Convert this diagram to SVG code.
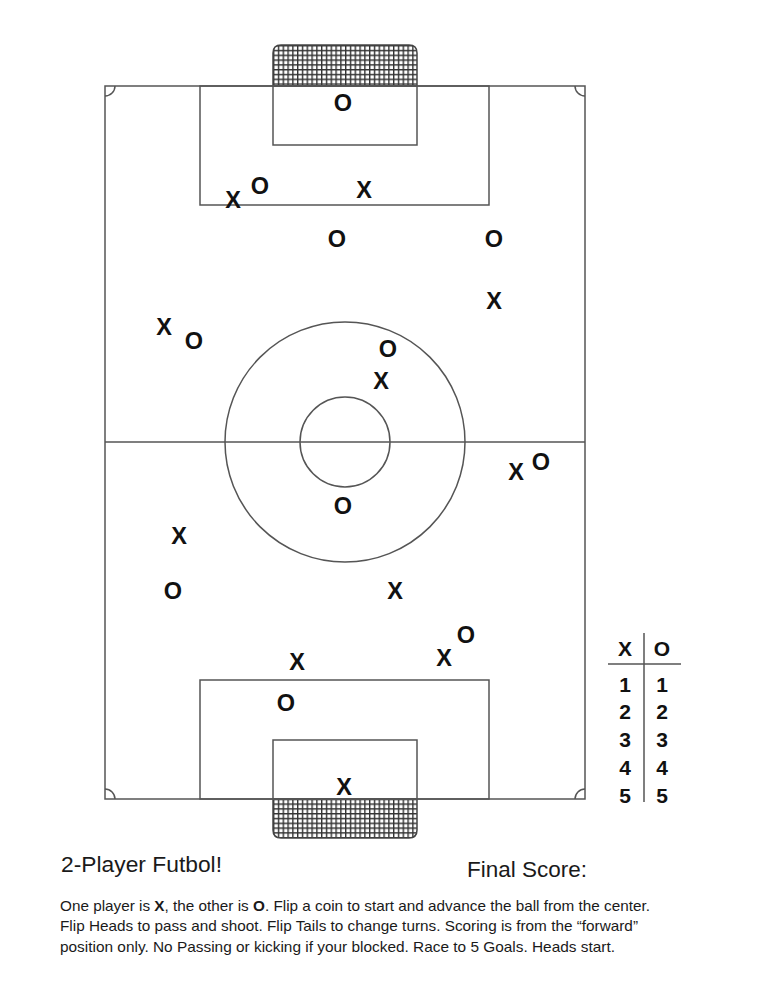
<svg xmlns="http://www.w3.org/2000/svg" width="773" height="1000" viewBox="0 0 773 1000">
<defs>
<pattern id="net" patternUnits="userSpaceOnUse" x="273" y="45" width="4.8" height="4.8">
<rect width="4.8" height="4.8" fill="#fff"/>
<path d="M0,0.7 H4.8 M0.7,0 V4.8" stroke="#333" stroke-width="1.4"/>
</pattern>
<style>
.ln{fill:none;stroke:#555;stroke-width:1.5}
.net{fill:url(#net);stroke:#444;stroke-width:1.5}
.m{font-family:"Liberation Sans",Arial,sans-serif;font-weight:bold;font-size:23.5px;text-anchor:middle;fill:#111}
.s{font-family:"Liberation Sans",Arial,sans-serif;font-weight:bold;font-size:21px;text-anchor:middle;fill:#111}
.t{font-family:"Liberation Sans",Arial,sans-serif;fill:#1a1a1a}
</style>
</defs>
<rect width="773" height="1000" fill="#fff"/>
<g id="field">
<path class="net" d="M273,86 V53 Q273,45 281,45 H409 Q417,45 417,53 V86 Z"/>
<path class="net" d="M273,799 V830 Q273,838 281,838 H409 Q417,838 417,830 V799 Z"/>
<rect class="ln" x="105" y="86" width="480" height="713"/>
<rect class="ln" x="200" y="86" width="289" height="119"/>
<rect class="ln" x="273" y="86" width="144" height="59"/>
<rect class="ln" x="200" y="680" width="289" height="119"/>
<rect class="ln" x="273" y="740" width="144" height="59"/>
<line class="ln" x1="105" y1="442" x2="585" y2="442"/>
<circle class="ln" cx="345" cy="442" r="120"/>
<circle class="ln" cx="345" cy="442" r="45"/>
<path class="ln" d="M105,96 A10,10 0 0 0 115,86 M575,86 A10,10 0 0 0 585,96 M105,789 A10,10 0 0 1 115,799 M575,799 A10,10 0 0 1 585,789"/>
</g>
<g id="players">
<text class="m" x="343" y="111">O</text>
<text class="m" x="233" y="208">X</text>
<text class="m" x="260" y="194">O</text>
<text class="m" x="364" y="198">X</text>
<text class="m" x="337" y="247">O</text>
<text class="m" x="494" y="247">O</text>
<text class="m" x="494" y="309">X</text>
<text class="m" x="164" y="335">X</text>
<text class="m" x="194" y="349">O</text>
<text class="m" x="388" y="357">O</text>
<text class="m" x="381" y="389">X</text>
<text class="m" x="516" y="480">X</text>
<text class="m" x="541" y="470">O</text>
<text class="m" x="343" y="514">O</text>
<text class="m" x="179" y="544">X</text>
<text class="m" x="173" y="599">O</text>
<text class="m" x="395" y="599">X</text>
<text class="m" x="466" y="643">O</text>
<text class="m" x="444" y="666">X</text>
<text class="m" x="297" y="670">X</text>
<text class="m" x="286" y="711">O</text>
<text class="m" x="344" y="795">X</text>
</g>
<g id="score">
<line class="ln" x1="644" y1="633" x2="644" y2="802"/>
<line class="ln" x1="608" y1="664" x2="681" y2="664"/>
<text class="s" x="625" y="656">X</text>
<text class="s" x="662" y="656">O</text>
<text class="s" x="625" y="692">1</text><text class="s" x="662" y="692">1</text>
<text class="s" x="625" y="719">2</text><text class="s" x="662" y="719">2</text>
<text class="s" x="625" y="747">3</text><text class="s" x="662" y="747">3</text>
<text class="s" x="625" y="775">4</text><text class="s" x="662" y="775">4</text>
<text class="s" x="625" y="803">5</text><text class="s" x="662" y="803">5</text>
</g>
<g id="text">
<text class="t" x="61" y="872" font-size="21.5" textLength="161" lengthAdjust="spacingAndGlyphs">2-Player Futbol!</text>
<text class="t" x="467" y="877" font-size="21.5" textLength="120" lengthAdjust="spacingAndGlyphs">Final Score:</text>
<text class="t" x="60" y="911" font-size="14.3" textLength="590" lengthAdjust="spacingAndGlyphs">One player is <tspan font-weight="bold">X</tspan>, the other is <tspan font-weight="bold">O</tspan>. Flip a coin to start and advance the ball from the center.</text>
<text class="t" x="60" y="931" font-size="14.3" textLength="578" lengthAdjust="spacingAndGlyphs">Flip Heads to pass and shoot. Flip Tails to change turns. Scoring is from the “forward”</text>
<text class="t" x="60" y="952" font-size="14.3" textLength="555" lengthAdjust="spacingAndGlyphs">position only. No Passing or kicking if your blocked. Race to 5 Goals. Heads start.</text>
</g>
</svg>
